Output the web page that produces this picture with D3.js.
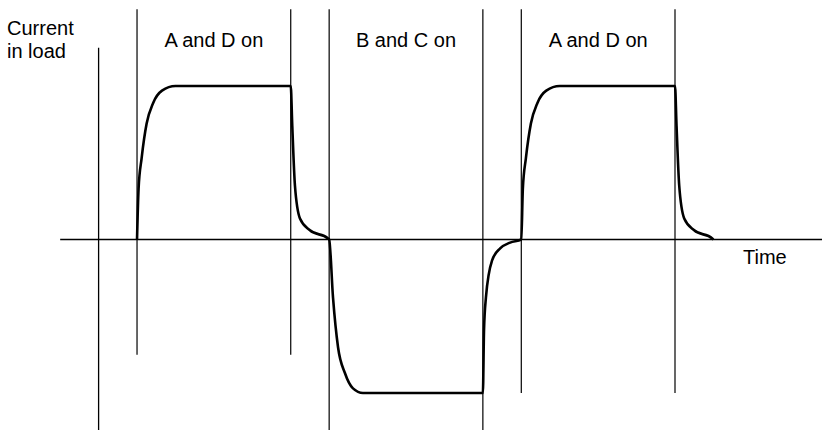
<!DOCTYPE html>
<html>
<head>
<meta charset="utf-8">
<script src="https://cdn.jsdelivr.net/npm/d3@7"></script>
<style>
  body { margin: 0; background: #fff; }
  svg text { font-family: "Liberation Sans", Arial, sans-serif; font-size: 20px; fill: #000; }
</style>
</head>
<body>
<svg id="chart" width="822" height="430"></svg>
<script>
/// Data (time in dead-time units, current normalised to +/-1)

var switchTimes = [1, 5, 6, 10, 11, 15];
var switchLineBottoms = [-0.75, -0.75, -1.25, -1.25, -1.0, -1.0];
var phaseLabels = ["A and D on", "B and C on", "A and D on"];
var phaseStarts = [1, 6, 11];
var phaseEnds = [5, 10, 15];

var waveTime = [1, 1.04, 1.12, 1.25, 1.42, 1.65, 2.0, 5.0, 5.04, 5.11, 5.24, 5.5, 5.97, 6.0,
                6.1, 6.23, 6.41, 6.62, 6.88, 10.0, 10.03, 10.08, 10.24, 10.45, 10.71, 11.0,
                11.04, 11.12, 11.25, 11.42, 11.65, 12.0, 15.0, 15.04, 15.11, 15.24, 15.5, 15.97, 16.0];
var waveCurrent = [0, 0.33, 0.53, 0.755, 0.89, 0.97, 1.0, 1.0, 0.74, 0.35, 0.137, 0.06, 0.007, 0,
                   -0.377, -0.70, -0.87, -0.97, -1.0, -1.0, -0.59, -0.377, -0.136, -0.058, -0.02, 0,
                   0.33, 0.53, 0.755, 0.89, 0.97, 1.0, 1.0, 0.74, 0.35, 0.137, 0.06, 0.007, 0];

var yAxisTitle = ["Current", "in load"];
var xAxisTitle = "Time";


/// Scales

var svg = d3.select("#chart");
var x = d3.scaleLinear().domain([0, 15]).range([98.6, 675]);
var y = d3.scaleLinear().domain([-1, 1]).range([393, 86]);


/// Axes (plain lines, no ticks)

svg.append("line")
  .attr("x1", x(-1)).attr("x2", 822)
  .attr("y1", y(0)).attr("y2", y(0))
  .attr("stroke", "#000").attr("stroke-width", 1.3);

svg.append("line")
  .attr("x1", x(0)).attr("x2", x(0))
  .attr("y1", y(1.25)).attr("y2", 430)
  .attr("stroke", "#000").attr("stroke-width", 1.3);


/// Switching instants

svg.selectAll(".switch")
  .data(switchTimes)
  .enter()
  .append("line")
  .attr("class", "switch")
  .attr("x1", d => x(d)).attr("x2", d => x(d))
  .attr("y1", y(1.5))
  .attr("y2", (d, i) => y(switchLineBottoms[i]))
  .attr("stroke", "#000").attr("stroke-width", 1.2);

svg.selectAll(".phase")
  .data(phaseLabels)
  .enter()
  .append("text")
  .attr("class", "phase")
  .attr("x", (d, i) => x((phaseStarts[i] + phaseEnds[i]) / 2))
  .attr("y", 47)
  .attr("text-anchor", "middle")
  .text(d => d);


/// Load current

var points = waveTime.map((t, i) => [t, waveCurrent[i]]);
var line = d3.line()
  .x(d => x(d[0]))
  .y(d => y(d[1]))
  .curve(d3.curveMonotoneX);

svg.append("path")
  .attr("d", line(points))
  .attr("fill", "none")
  .attr("stroke", "#000")
  .attr("stroke-width", 2.6)
  .attr("stroke-linejoin", "round");


/// Titles

svg.selectAll(".ytitle")
  .data(yAxisTitle)
  .enter()
  .append("text")
  .attr("class", "ytitle")
  .attr("x", 7)
  .attr("y", (d, i) => 35 + i * 23)
  .text(d => d);

svg.append("text")
  .attr("x", 743)
  .attr("y", 264)
  .text(xAxisTitle);
</script>
</body>
</html>
